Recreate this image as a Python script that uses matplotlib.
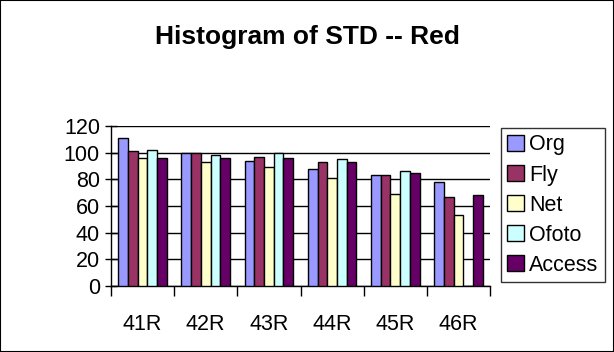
import numpy as np
import matplotlib.pyplot as plt

categories = ["41R", "42R", "43R", "44R", "45R", "46R"]
series = ["Org", "Fly", "Net", "Ofoto", "Access"]
org = [111, 100, 94, 88, 83, 78]
fly = [101, 100, 97, 93, 83, 67]
net = [96, 93, 89, 81, 69, 53]
ofoto = [102, 98, 99.5, 95, 86, 0]
access = [96, 96, 96, 93, 85, 68]
colors = ["#9999FF", "#993366", "#FFFFCC", "#CCFFFF", "#660066"]

plt.rcParams['font.family'] = ['Liberation Sans', 'DejaVu Sans']

fig = plt.figure(figsize=(6.14, 3.52), dpi=100)
fig.patches.append(plt.Rectangle((0, 0), 1, 1, transform=fig.transFigure,
                                 fill=False, edgecolor="black", linewidth=1.5))
ax = fig.add_axes([111 / 614, 66 / 352, 379 / 614, 160 / 352])

x = np.arange(len(categories))
w = 1 / 6.5
data = [org, fly, net, ofoto, access]
for i, (name, vals) in enumerate(zip(series, data)):
    ax.bar(x + (i - 2) * w, vals, w, color=colors[i], edgecolor="black",
           linewidth=1, label=name, zorder=3)

ax.set_xlim(-0.5, len(categories) - 0.5)
ax.set_ylim(0, 120)
ax.set_yticks(range(0, 121, 20))
ax.yaxis.grid(True, color="black", linewidth=1, zorder=0)
ax.set_axisbelow(True)
for s in ["top", "right"]:
    ax.spines[s].set_visible(False)
ax.spines["left"].set_linewidth(1)
ax.spines["bottom"].set_linewidth(1)

ax.set_xticks(x)
ax.set_xticklabels(categories, fontsize=15.5)
ax.tick_params(axis="x", length=0, pad=20)
ax.set_xticks(np.arange(-0.5, len(categories)), minor=True)
ax.tick_params(axis="x", which="minor", length=7, width=1, direction="out")
ax.tick_params(axis="y", labelsize=15.5, length=8, width=1, direction="inout", pad=4)

fig.text(307 / 614, 1 - 37 / 352, "Histogram of STD -- Red", fontsize=19,
         fontweight="bold", ha="center", va="center")

leg = fig.legend(loc="upper left", bbox_to_anchor=(501 / 614, 1 - 128 / 352),
                 fontsize=15.5, frameon=True, fancybox=False, borderpad=0.3,
                 handlelength=0.75, handleheight=0.75, handletextpad=0.25,
                 labelspacing=0.42, borderaxespad=0)
leg.get_frame().set_edgecolor("black")
leg.get_frame().set_linewidth(1)

fig.savefig("out.png", dpi=100)
